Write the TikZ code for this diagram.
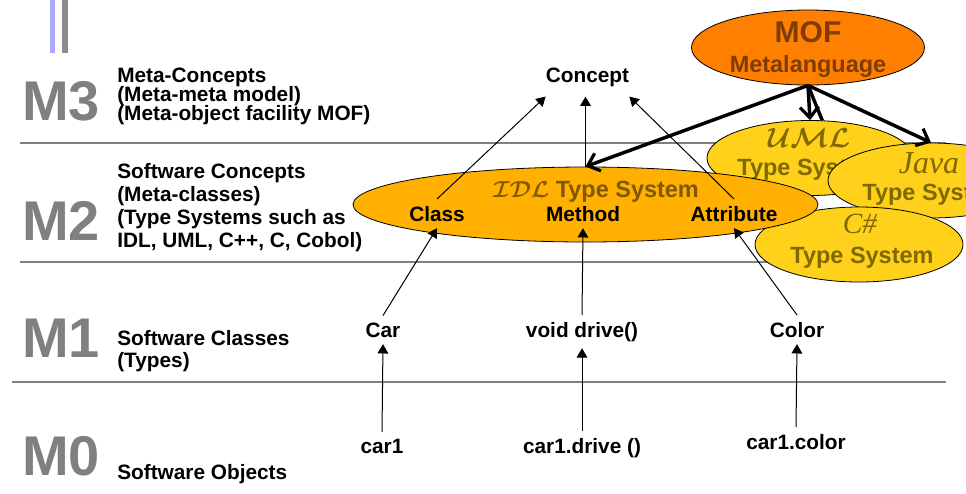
\documentclass[tikz,border=0pt]{standalone}
\usepackage{fontspec}
\setmainfont{Liberation Sans}
\newfontfamily\nameserif{Liberation Serif}
\usetikzlibrary{shapes.geometric,arrows.meta}

\definecolor{levelgray}{HTML}{808080}
\definecolor{barblue}{HTML}{AAAAFF}
\definecolor{bargray}{HTML}{8C8C8C}
\definecolor{moforange}{HTML}{FF7F00}
\definecolor{mofbrown}{HTML}{803C00}
\definecolor{idlfill}{HTML}{FFB000}
\definecolor{idltext}{HTML}{805800}
\definecolor{tsfill}{HTML}{FFD11A}
\definecolor{tstext}{HTML}{806800}

\begin{document}
\begin{tikzpicture}[x=0.75pt,y=-0.75pt,
  levelline/.style={draw=levelgray,line width=1.1pt},
  levelnum/.style={anchor=base west,inner sep=0pt,text=levelgray,
    font=\fontsize{42}{42}\selectfont\bfseries},
  leveltxt/.style={anchor=base west,inner sep=0pt,
    font=\fontsize{15.6}{18}\selectfont\bfseries},
  lbl/.style={anchor=base,inner sep=5pt,
    font=\fontsize{15.6}{18}\selectfont\bfseries},
  ellbase/.style={ellipse,draw=black,line width=0.6pt,inner sep=0pt},
  tsell/.style={ellbase,fill=tsfill,minimum width=154.5pt,minimum height=56.25pt},
  tstxt/.style={anchor=base,inner sep=0pt,text=tstext,
    font=\fontsize{17.6}{18}\selectfont\bfseries},
  tsname/.style={anchor=base,inner sep=0pt,text=tstext,
    font=\fontsize{20}{20}\selectfont\nameserif\itshape\boldmath},
  thinarr/.style={line width=0.75pt,-{Triangle[length=7pt,width=8pt]}},
  thickarr/.style={line width=2.6pt,-{Straight Barb[length=8pt,width=14pt,line width=2.4pt]}},
  thickline/.style={line width=2.6pt}
]
\useasboundingbox (0,0) rectangle (966,493);
\clip (0,0) rectangle (966,493);

% title bars
\fill[barblue] (50,0) rectangle (55,53);
\fill[bargray] (62,0) rectangle (68,53);

% level separators
\draw[levelline] (20,143) -- (946,143);
\draw[levelline] (20,262) -- (946,262);
\draw[levelline] (12,382) -- (946,382);

% level numbers
\node[levelnum] (m3) at (22,120) {M3};
\node[levelnum] (m2) at (22,240) {M2};
\node[levelnum] (m1) at (22,357) {M1};
\node[levelnum] (m0) at (22,475) {M0};

% level descriptions
\node[leveltxt] (m3a) at (117,82) {Meta-Concepts};
\node[leveltxt] (m3b) at (117,101) {(Meta-meta model)};
\node[leveltxt] (m3c) at (117,120) {(Meta-object facility MOF)};
\node[leveltxt] (m2a) at (117,178) {Software Concepts};
\node[leveltxt] (m2b) at (117,201) {(Meta-classes)};
\node[leveltxt] (m2c) at (117,224) {(Type Systems such as};
\node[leveltxt] (m2d) at (117,247) {IDL, UML, C++, C, Cobol)};
\node[leveltxt] (m1a) at (117,345) {Software Classes};
\node[leveltxt] (m1b) at (117,367) {(Types)};
\node[leveltxt] (m0a) at (117,479) {Software Objects};

% type systems
\node[tsell] (uml) at (810,158) {};
\node[tsname] (umlname) at (809,147) {$\mathcal{UML}$};
\node[tstxt] (umltxt) at (809,175) {Type System};

\node[tsell,minimum height=56.25pt] (java) at (931,180.5) {};
\node[tsname,font=\fontsize{24}{24}\selectfont\nameserif\itshape] (javaname) at (929,173) {Java};
\node[tstxt] (javatxt) at (934,200) {Type System};

\node[tsell,minimum width=156pt,minimum height=56.25pt] (cs) at (859,244.5) {};
\node[tsname,font=\fontsize{22}{22}\selectfont\nameserif\itshape] (csname) at (860,233) {C\#};
\node[tstxt] (cstxt) at (862,263) {Type System};

\node[ellbase,fill=idlfill,minimum width=348.75pt,minimum height=56.25pt] (idl) at (585.5,204.5) {};
\node[anchor=base,inner sep=0pt,text=idltext,font=\fontsize{17.6}{18}\selectfont\bfseries\boldmath]
  (idltxt) at (596,197) {{\fontsize{17}{17}\selectfont$\mathcal{IDL}$} Type System};
\node[lbl] (class) at (437,221) {Class};
\node[lbl] (method) at (583,221) {Method};
\node[lbl] (attr) at (734,221) {Attribute};

% MOF
\node[ellbase,fill=moforange,minimum width=174.75pt,minimum height=56.25pt] (mof) at (808,47.5) {};
\node[anchor=base,inner sep=0pt,text=mofbrown,font=\fontsize{22.5}{22.5}\selectfont\bfseries]
  (moftxt) at (808,42) {MOF};
\node[anchor=base,inner sep=0pt,text=mofbrown,font=\fontsize{17.6}{18}\selectfont\bfseries]
  (metalang) at (808,72) {Metalanguage};

% M3 concept and instances below
\node[lbl,inner xsep=0pt,inner ysep=7.5pt] (concept) at (587.5,82) {Concept};
\node[lbl] (car) at (383,337) {Car};
\node[lbl] (drive) at (582,337) {void drive()};
\node[lbl] (color) at (797,337) {Color};
\node[lbl] (car1) at (382,453) {car1};
\node[lbl] (car1drive) at (582,453) {car1.drive ()};
\node[lbl] (car1color) at (796,449) {car1.color};

% instance-of relations
\draw[thinarr] (class.north) -- (concept.south west);
\draw[thinarr] (idl.north) -- (idl.north |- concept.south);
\draw[thinarr] (attr.north) -- (concept.south east);
\draw[thinarr] (car.north) -- (class.south);
\draw[thinarr] (drive.north) -- (method.south);
\draw[thinarr] (color.north) -- (attr.south);
\draw[thinarr] (car1.north) -- (car.south);
\draw[thinarr] (car1drive.north) -- (drive.south);
\draw[thinarr] (car1color.north) -- (color.south);

% MOF defines the type systems
\draw[thickarr] (mof.south) -- (idl.north);
\draw[thickarr] (mof.south) -- (uml.north);
\draw[thickline] (mof.south) -- (uml.72);
\draw[thickarr] (mof.south) -- (java.north);
\end{tikzpicture}
\end{document}
